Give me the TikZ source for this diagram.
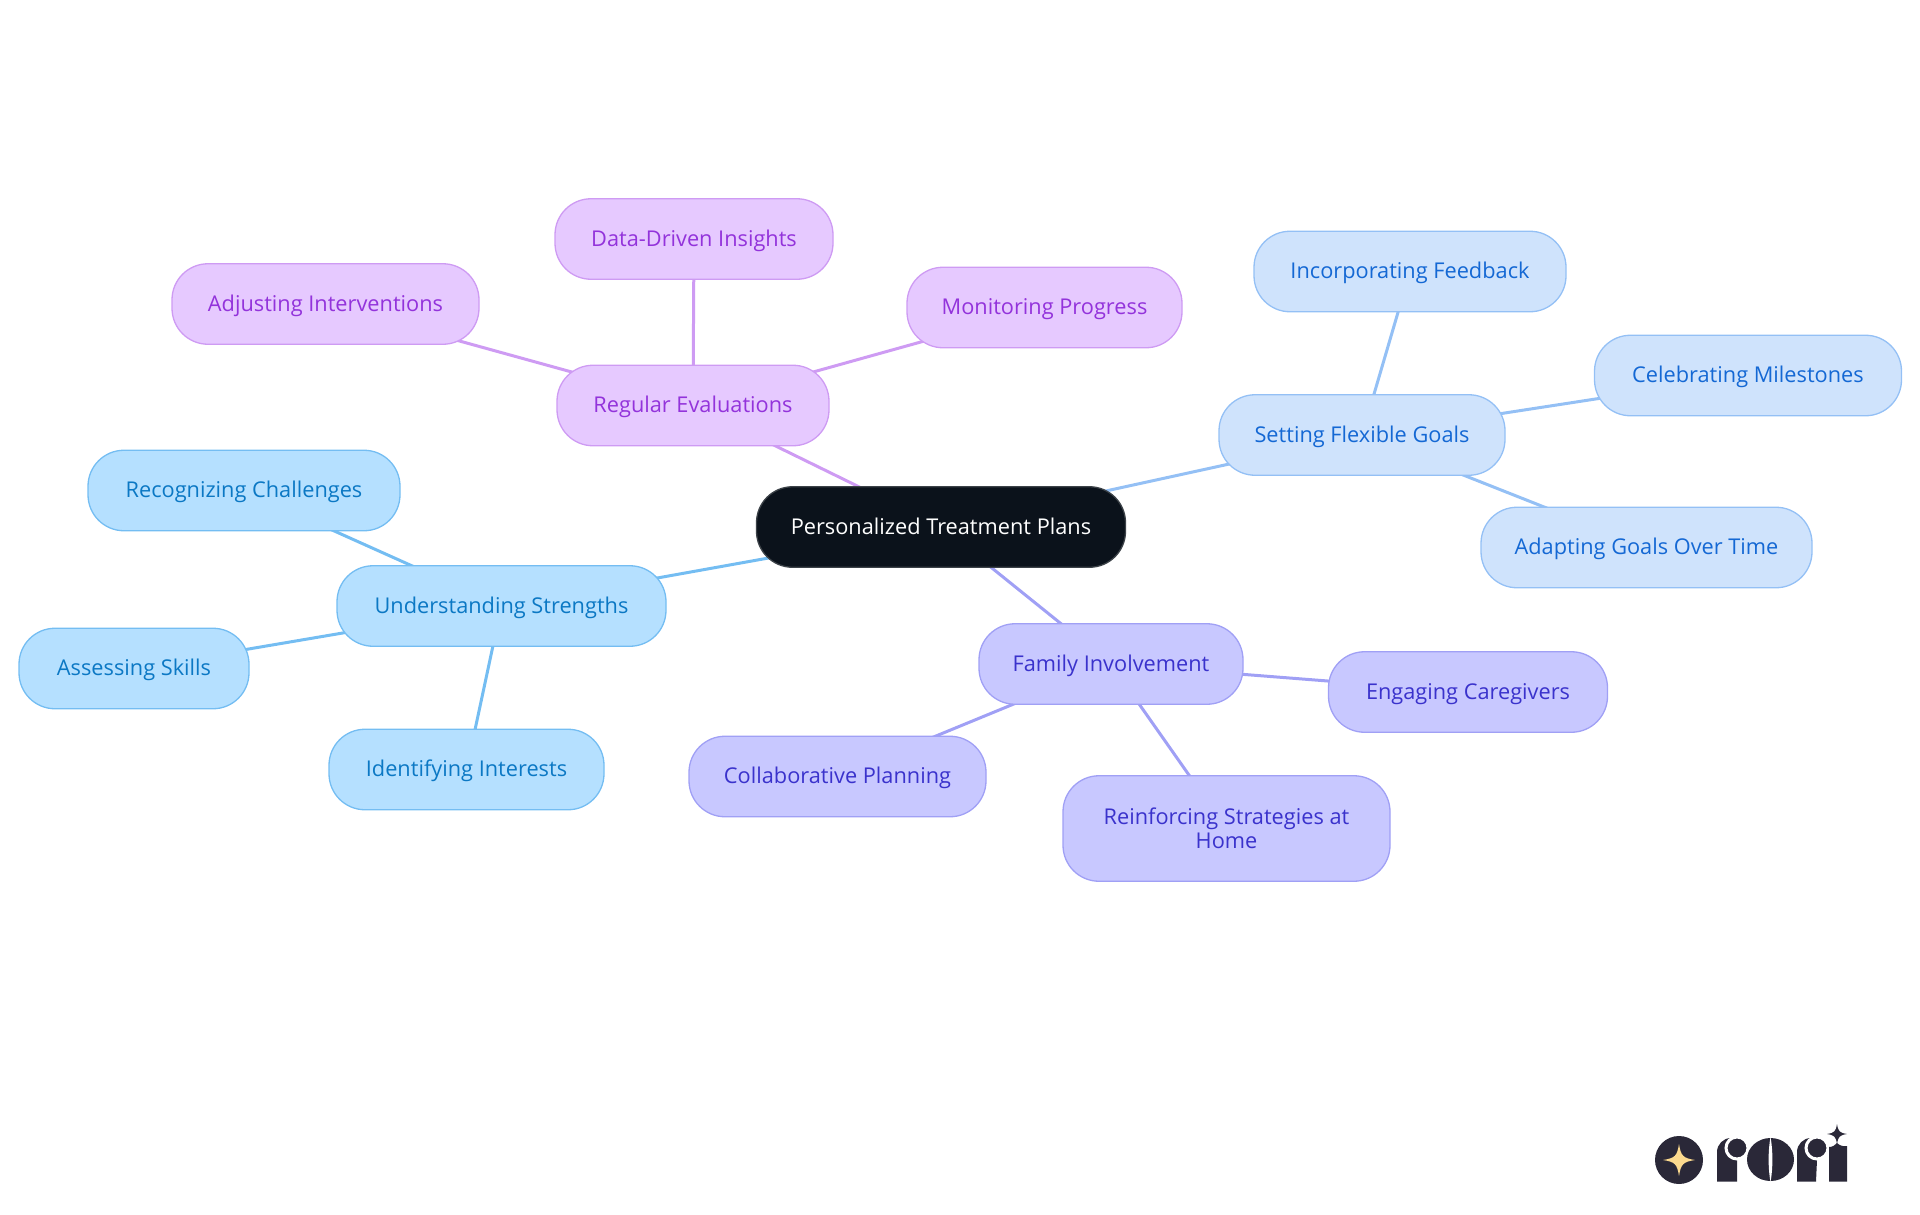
\documentclass[tikz,border=0pt]{standalone}
\usepackage{fontspec}
\setmainfont{Open Sans}
\usetikzlibrary{backgrounds}
\definecolor{rootfill}{HTML}{0B121B}
\definecolor{rootline}{HTML}{3C4248}
\definecolor{purplefill}{HTML}{E6C9FF}
\definecolor{purpleline}{HTML}{CE9BF3}
\definecolor{purpletext}{HTML}{9333DB}
\definecolor{lilacfill}{HTML}{C8C8FF}
\definecolor{lilacline}{HTML}{A0A0F5}
\definecolor{lilactext}{HTML}{3A32CC}
\definecolor{bluefill}{HTML}{CFE3FC}
\definecolor{blueline}{HTML}{94C0F5}
\definecolor{bluetext}{HTML}{1468D4}
\definecolor{skyfill}{HTML}{B5E0FF}
\definecolor{skyline}{HTML}{74BDF2}
\definecolor{skytext}{HTML}{0B78C4}
\definecolor{logoink}{HTML}{2A2838}
\definecolor{logogold}{HTML}{FBD98E}
\newcommand{\sparkle}[4]{\fill[#4] (#1-#3,#2) .. controls (#1-#3*.25,#2-#3*.12) and (#1-#3*.12,#2-#3*.25) .. (#1,#2-#3)
 .. controls (#1+#3*.12,#2-#3*.25) and (#1+#3*.25,#2-#3*.12) .. (#1+#3,#2)
 .. controls (#1+#3*.25,#2+#3*.12) and (#1+#3*.12,#2+#3*.25) .. (#1,#2+#3)
 .. controls (#1-#3*.12,#2+#3*.25) and (#1-#3*.25,#2+#3*.12) .. cycle;}

\begin{document}
\begin{tikzpicture}[x=1pt,y=-1pt]
\tikzstyle{topic} = [rectangle, rounded corners=36pt, line width=1.3pt, inner sep=0pt, outer sep=0pt,
minimum height=80.5pt, font=\fontsize{21.75}{24}\selectfont, text height=19pt, text depth=5pt]
\tikzstyle{root_node} = [topic, draw=rootline, fill=rootfill, text=white]
\tikzstyle{purple_node} = [topic, draw=purpleline, fill=purplefill, text=purpletext]
\tikzstyle{lilac_node} = [topic, draw=lilacline, fill=lilacfill, text=lilactext]
\tikzstyle{blue_node} = [topic, draw=blueline, fill=bluefill, text=bluetext]
\tikzstyle{sky_node} = [topic, draw=skyline, fill=skyfill, text=skytext]
\tikzstyle{branch} = [draw, line width=3pt];
\useasboundingbox (0,0) rectangle (1920,1215);
% centre
\node [root_node, minimum width=369pt] (root) at (941,527) {Personalized Treatment Plans};
% purple branch
\node [purple_node, minimum width=272pt] (evaluations) at (693,405.5) {Regular Evaluations};
\node [purple_node, minimum width=278pt] (insights) at (694,239) {Data-Driven Insights};
\node [purple_node, minimum width=307pt] (interventions) at (325.5,304) {Adjusting Interventions};
\node [purple_node, minimum width=275pt] (monitoring) at (1044.5,307.5) {Monitoring Progress};
% blue branch
\node [blue_node, minimum width=286pt] (goals) at (1362,435) {Setting Flexible Goals};
\node [blue_node, minimum width=312pt] (feedback) at (1410,271.5) {Incorporating Feedback};
\node [blue_node, minimum width=307pt] (milestones) at (1748,375.5) {Celebrating Milestones};
\node [blue_node, minimum width=331pt] (adapting) at (1646.5,547.5) {Adapting Goals Over Time};
% lilac branch
\node [lilac_node, minimum width=264pt] (family) at (1111,664) {Family Involvement};
\node [lilac_node, minimum width=279pt] (caregivers) at (1468,692) {Engaging Caregivers};
\node [lilac_node, minimum width=297pt] (planning) at (837.5,776.5) {Collaborative Planning};
\node [lilac_node, minimum width=327pt, minimum height=105.5pt, align=center, text height=, text depth=] (home) at (1226.5,828.5) {Reinforcing Strategies at\\Home};
% sky branch
\node [sky_node, minimum width=329pt] (strengths) at (501.5,606) {Understanding Strengths};
\node [sky_node, minimum width=312pt] (challenges) at (244,490.5) {Recognizing Challenges};
\node [sky_node, minimum width=230pt] (skills) at (134,668.5) {Assessing Skills};
\node [sky_node, minimum width=275pt] (interests) at (466.5,769.5) {Identifying Interests};
\begin{pgfonlayer}{background}
\path [branch, draw=purpleline] (root.center) -- (evaluations.center);
\path [branch, draw=purpleline] (evaluations.center) -- (insights.center);
\path [branch, draw=purpleline] (evaluations.center) -- (interventions.center);
\path [branch, draw=purpleline] (evaluations.center) -- (monitoring.center);
\path [branch, draw=blueline] (root.center) -- (goals.center);
\path [branch, draw=blueline] (goals.center) -- (feedback.center);
\path [branch, draw=blueline] (goals.center) -- (milestones.center);
\path [branch, draw=blueline] (goals.center) -- (adapting.center);
\path [branch, draw=lilacline] (root.center) -- (family.center);
\path [branch, draw=lilacline] (family.center) -- (caregivers.center);
\path [branch, draw=lilacline] (family.center) -- (planning.center);
\path [branch, draw=lilacline] (family.center) -- (home.center);
\path [branch, draw=skyline] (root.center) -- (strengths.center);
\path [branch, draw=skyline] (strengths.center) -- (challenges.center);
\path [branch, draw=skyline] (strengths.center) -- (skills.center);
\path [branch, draw=skyline] (strengths.center) -- (interests.center);
\end{pgfonlayer}
% logo
\fill [logoink] (1679,1160) circle (24);
\sparkle{1679}{1160}{16}{logogold}
\fill [logoink] (1717,1181.5) -- (1717,1152) arc (180:270:14 and 14) -- (1731,1138) -- (1737,1160) -- (1737,1181.5) -- cycle;
\filldraw [logoink, draw=white, line width=3pt] (1737,1148) circle (11);
\fill [logoink] (1770.5,1159.5) ellipse (23.5 and 21.5);
\fill [white] (1770.5,1137) .. controls (1768,1150) and (1768,1169) .. (1770.5,1182) .. controls (1773,1169) and (1773,1150) .. cycle;
\fill [logoink] (1797,1181.5) -- (1797,1152) arc (180:270:14 and 14) -- (1811,1138) -- (1817,1160) -- (1816,1181.5) -- cycle;
\filldraw [logoink, draw=white, line width=3pt] (1817,1148) circle (11);
\fill [logoink] (1829,1181.5) -- (1829,1147) .. controls (1833,1147) and (1835,1145) .. (1837,1143) .. controls (1839,1145) and (1843,1147) .. (1847,1146) -- (1847,1181.5) -- cycle;
\sparkle{1837}{1134}{10}{logoink}
\end{tikzpicture}
\end{document}
